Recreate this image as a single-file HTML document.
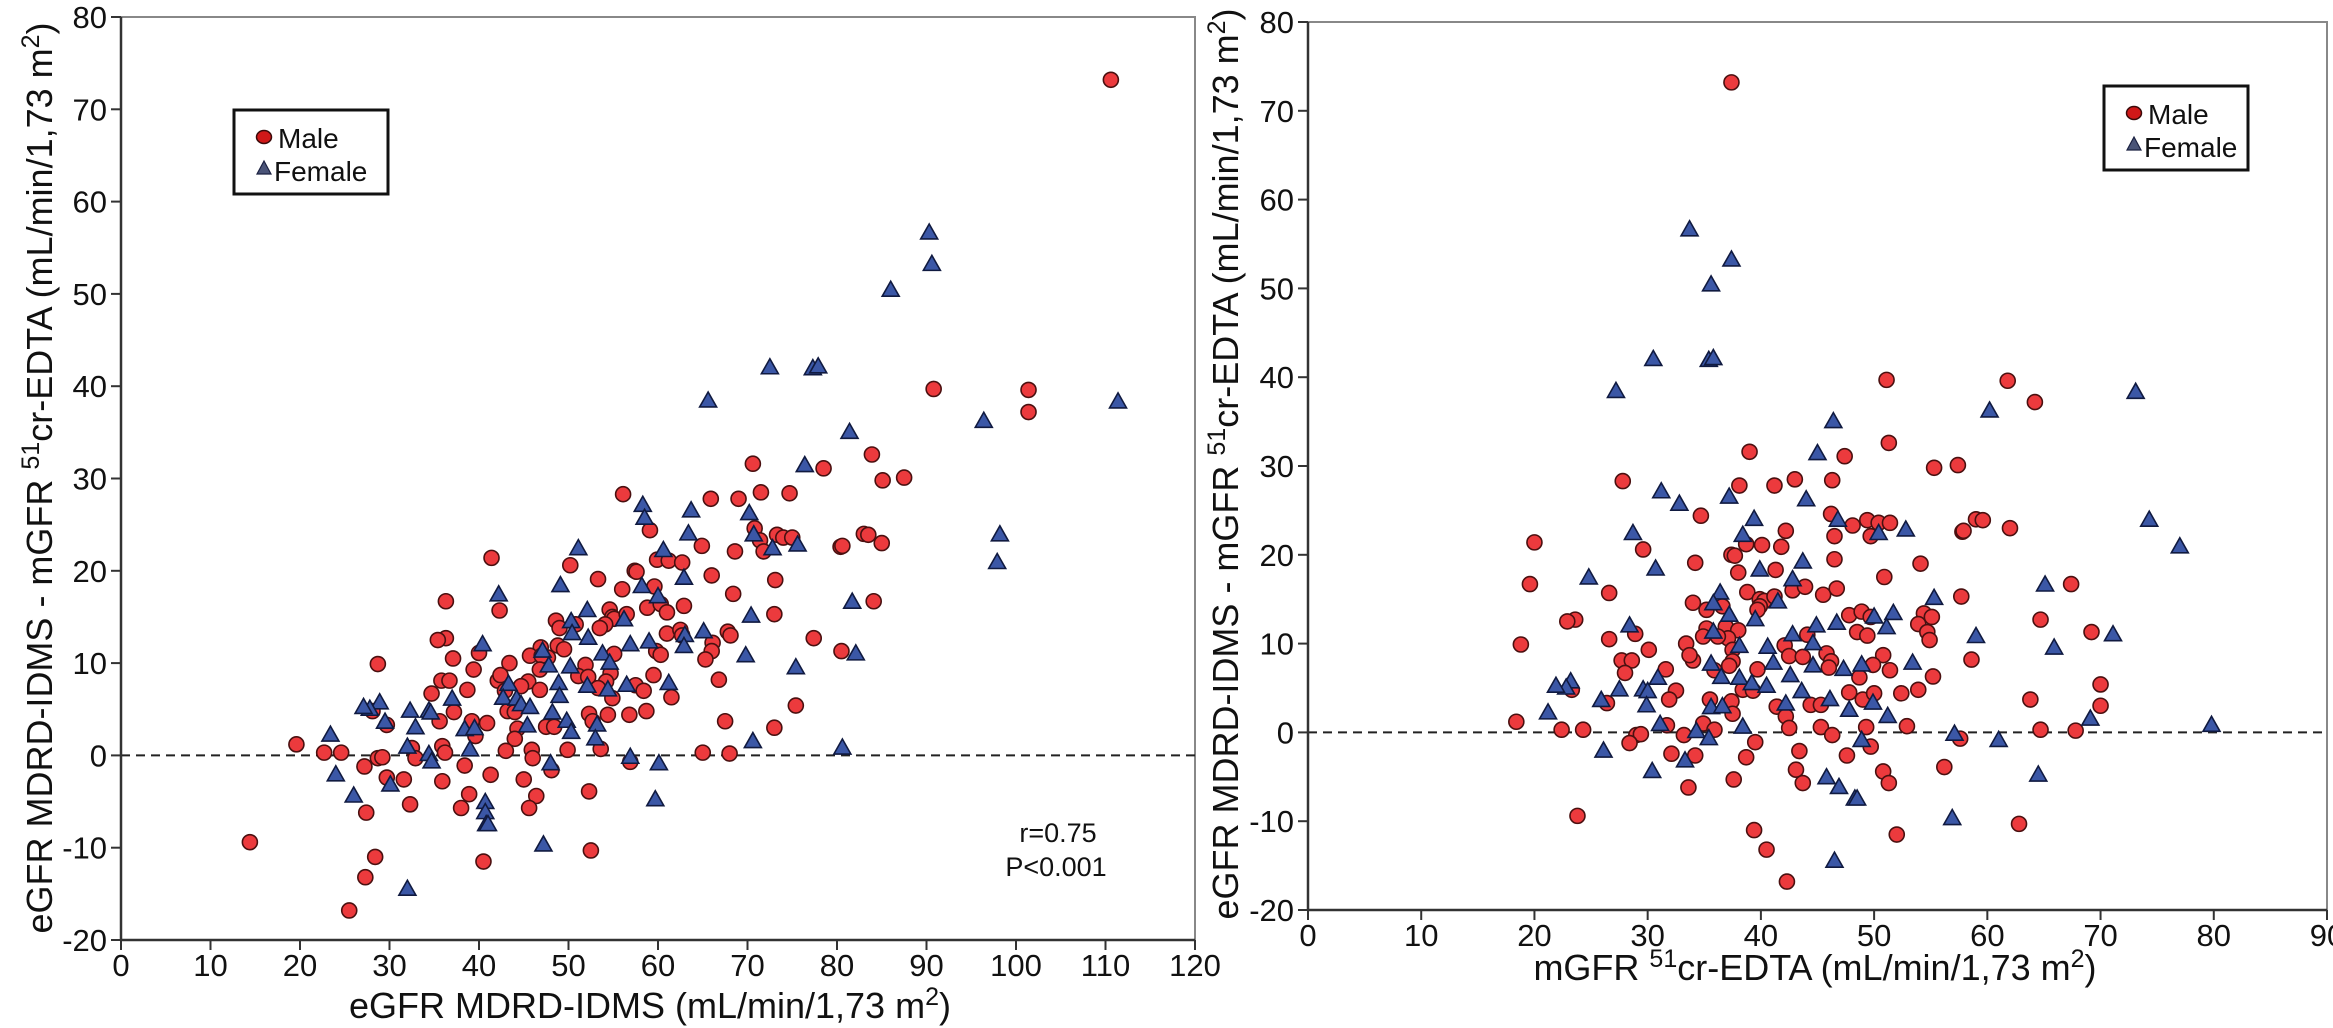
<!DOCTYPE html>
<html><head><meta charset="utf-8">
<style>
html,body{margin:0;padding:0;background:#fff;}
svg{display:block;font-family:"Liberation Sans",Arial,sans-serif;}
</style></head>
<body>
<svg id="fig" width="2333" height="1028" viewBox="0 0 2333 1028" xmlns="http://www.w3.org/2000/svg"></svg>
<script>
// Data: measured GFR (mGFR) and difference eGFR - mGFR, per sex
const maleMgfr = [27.8,38.1,41.2,43.0,46.3,34.7,46.2,48.1,49.4,50.4,51.4,49.7,57.8,59.0,42.2,38.7,40.1,41.8,46.5,29.6,37.4,37.7,34.2,46.5,54.1,38.0,41.3,50.9,42.8,43.9,45.5,46.7,26.6,34.0,35.2,36.6,38.8,39.9,40.3,41.2,39.9,39.7,57.7,23.6,47.8,48.9,49.7,54.4,55.1,53.9,28.9,26.6,35.2,34.9,36.9,38.0,37.1,36.2,44.1,48.5,49.4,54.7,54.9,33.4,37.5,42.1,42.5,43.7,30.1,34.0,33.7,27.7,28.6,28.0,45.8,46.2,46.0,50.8,58.6,37.5,35.9,37.2,31.6,39.7,49.9,51.4,48.7,55.2,23.3,38.4,39.3,32.5,31.9,26.4,35.5,37.4,37.5,47.8,49.0,50.0,52.4,53.9,41.4,42.2,44.4,45.3,22.4,31.7,29.0,29.4,28.4,33.2,34.9,35.9,39.5,42.5,45.3,46.3,49.3,49.7,52.9,57.6,32.1,34.2,38.7,43.4,47.6,37.6,33.6,43.1,43.7,50.8,51.3,56.2,51.1,61.8,39.0,47.4,51.3,55.3,57.4,37.4,18.8,18.4,20.0,19.6,22.9,24.3,23.8,39.4,40.5,42.3,52.0,62.8,64.2,69.2,57.9,59.6,63.8,64.7,64.7,67.4,67.8,70.0,70.0,62.0];
const maleDiff = [28.3,27.8,27.8,28.5,28.4,24.4,24.6,23.3,23.9,23.6,23.6,22.1,22.6,24.0,22.7,21.2,21.1,20.9,22.1,20.6,20.0,19.9,19.1,19.5,19.0,18.0,18.3,17.5,16.0,16.4,15.5,16.2,15.7,14.6,13.8,14.2,15.8,15.0,14.8,15.3,14.2,13.8,15.3,12.7,13.2,13.6,13.0,13.4,13.0,12.2,11.1,10.5,11.7,10.8,11.9,11.5,10.6,10.8,11.0,11.3,10.9,11.3,10.4,10.0,9.3,9.8,8.6,8.5,9.3,8.1,8.7,8.1,8.1,6.7,8.9,8.0,7.3,8.7,8.2,8.0,7.0,7.5,7.1,7.1,7.6,7.0,6.2,6.3,4.8,4.8,4.7,4.7,3.7,3.3,3.7,3.5,2.1,4.5,3.7,4.4,4.4,4.8,2.9,1.8,3.1,3.1,0.3,0.8,-0.3,-0.2,-1.2,-0.3,1.0,0.3,-1.1,0.5,0.6,-0.3,0.6,-1.6,0.7,-0.7,-2.4,-2.6,-2.8,-2.1,-2.6,-5.3,-6.2,-4.2,-5.7,-4.4,-5.7,-3.9,39.7,39.6,31.6,31.1,32.6,29.8,30.1,73.2,9.9,1.2,21.4,16.7,12.5,0.3,-9.4,-11.0,-13.2,-16.8,-11.5,-10.3,37.2,11.3,22.7,23.9,3.7,12.7,0.3,16.7,0.2,3.0,5.4,23.0];
const femaleMgfr = [31.2,32.8,37.2,44.0,39.4,46.8,50.4,52.8,28.7,38.4,43.7,30.7,24.8,39.9,42.8,36.4,35.8,41.5,55.3,37.2,39.5,50.0,51.7,46.7,28.4,35.8,42.8,44.9,51.1,59.0,38.1,40.6,44.6,35.6,41.1,44.6,47.3,48.9,53.4,23.2,30.9,36.5,38.1,39.2,40.5,42.6,27.5,29.6,30.0,25.9,29.9,35.6,36.6,43.6,49.9,46.1,42.2,47.8,51.2,31.1,34.3,35.4,38.4,48.9,57.1,61.0,26.1,33.3,30.4,45.8,46.9,48.3,33.7,37.4,35.6,30.5,35.4,35.8,27.2,60.2,46.4,45.0,22.8,21.9,21.2,46.5,56.9,73.1,74.3,77.0,65.1,65.9,64.5,69.1,71.1,79.8,48.5];
const femaleDiff = [27.1,25.7,26.5,26.2,24.0,23.9,22.4,22.8,22.4,22.2,19.2,18.4,17.4,18.3,17.2,15.7,14.5,14.7,15.1,13.2,12.7,13.0,13.4,12.3,12.0,11.3,11.0,12.0,11.8,10.8,9.7,9.6,10.0,7.7,7.8,7.5,7.1,7.6,7.8,5.7,6.1,6.2,6.1,5.5,5.2,6.4,4.8,4.8,4.6,3.6,3.0,2.8,2.9,4.6,3.3,3.7,3.2,2.5,1.8,0.9,0.1,-0.7,0.6,-0.9,-0.2,-0.9,-2.1,-3.2,-4.4,-5.1,-6.2,-7.5,56.6,53.2,50.4,42.0,41.9,42.1,38.4,36.2,35.0,31.4,5.0,5.2,2.2,-14.5,-9.7,38.3,23.9,20.9,16.6,9.5,-4.8,1.5,11.0,0.8,-7.5];
const leftXTicks = [0,10,20,30,40,50,60,70,80,90,100,110,120];
const rightXTicks = [0,10,20,30,40,50,60,70,80,90];
const yTicks = [-20,-10,0,10,20,30,40,50,60,70,80];

const NS = "http://www.w3.org/2000/svg";
const svg = document.getElementById('fig');
function mk(tag, attrs, parent){
  const e = document.createElementNS(NS, tag);
  for (const k in attrs) e.setAttribute(k, attrs[k]);
  (parent||svg).appendChild(e);
  return e;
}
function txt(s, x, y, size, anchor, parent){
  const t = mk('text', {x:x, y:y, 'font-size':size, 'text-anchor':anchor||'middle', fill:'#111'}, parent);
  t.textContent = s;
  return t;
}

const panels = [
  {name:'left', x0:121, x1:1195, xmax:120, y0:940, y1:17, xt:leftXTicks, useE:true},
  {name:'right', x0:1308, x1:2327, xmax:90, y0:910, y1:22, xt:rightXTicks, useE:false}
];

panels.forEach(p => {
  const g = mk('g', {});
  
  
  const sx = v => p.x0 + (v/p.xmax)*(p.x1-p.x0);
  const sy = v => p.y0 - ((v+20)/100)*(p.y0-p.y1);
  const fr = mk('path', {d:`M${p.x0},${p.y1} H${p.x1} V${p.y0}`, stroke:'#888', 'stroke-width':2, fill:'none'}, g);
  
  
  const z = mk('line', {x1:p.x0, x2:p.x1, y1:sy(0), y2:sy(0), stroke:'#222', 'stroke-width':2, 'stroke-dasharray':'9,6'}, g);
  
  
  const ya = mk('line', {x1:p.x0, x2:p.x0, y1:p.y1, y2:p.y0, stroke:'#333', 'stroke-width':2.5}, g);
  
  
  const xa = mk('line', {x1:p.x0, x2:p.x1, y1:p.y0, y2:p.y0, stroke:'#333', 'stroke-width':2.5}, g);
  
  
  yTicks.forEach(v => {
    mk('line', {x1:p.x0-10, x2:p.x0, y1:sy(v), y2:sy(v), stroke:'#333', 'stroke-width':2}, g);
    const t = txt(String(v), p.x0-14, sy(v)+11, 31, 'end', g);
    
    
  });
  p.xt.forEach(v => {
    mk('line', {x1:sx(v), x2:sx(v), y1:p.y0, y2:p.y0+10, stroke:'#333', 'stroke-width':2}, g);
    const t = txt(String(v), sx(v), p.y0+36, 31, 'middle', g);
    
    
  });
  const drawM = (mg, d) => {
    const xv = p.useE ? mg + d : mg;
    const c = mk('circle', {cx:sx(xv), cy:sy(d), r:7.5, fill:'#ec3a3d', stroke:'#4a1010', 'stroke-width':1.6}, g);
    
    
  };
  const drawF = (mg, d) => {
    const xv = p.useE ? mg + d : mg;
    const cx = sx(xv), cy = sy(d);
    const t = mk('polygon', {points:`${cx},${cy-9} ${cx-8.5},${cy+6} ${cx+8.5},${cy+6}`, fill:'#3b57a6', stroke:'#101a40', 'stroke-width':1.6}, g);
    
    
  };
  maleMgfr.forEach((m,i) => drawM(m, maleDiff[i]));
  femaleMgfr.forEach((m,i) => drawF(m, femaleDiff[i]));
});

function yTitle(cx, cy, name){
  const t = mk('text', {x:0, y:0, 'font-size':36, 'text-anchor':'middle', fill:'#111', transform:`translate(${cx},${cy}) rotate(-90)`});
  t.innerHTML = 'eGFR MDRD-IDMS - mGFR <tspan dy="-13" font-size="25">51</tspan><tspan dy="13">cr-EDTA (mL/min/1,73 m</tspan><tspan dy="-13" font-size="25">2</tspan><tspan dy="13">)</tspan>';
  
  
}
yTitle(52, 478, 'left-y-axis-title');
yTitle(1238, 464, 'right-y-axis-title');

const xl = mk('text', {x:650, y:1018, 'font-size':36, 'text-anchor':'middle', fill:'#111'});
xl.innerHTML = 'eGFR MDRD-IDMS (mL/min/1,73 m<tspan dy="-13" font-size="25">2</tspan><tspan dy="13">)</tspan>';



const xr = mk('text', {x:1815, y:980, 'font-size':36, 'text-anchor':'middle', fill:'#111'});
xr.innerHTML = 'mGFR <tspan dy="-13" font-size="25">51</tspan><tspan dy="13">cr-EDTA (mL/min/1,73 m</tspan><tspan dy="-13" font-size="25">2</tspan><tspan dy="13">)</tspan>';



const r1 = txt('r=0.75', 1058, 842, 27, 'middle');


const r2 = txt('P<0.001', 1056, 876, 27, 'middle');



function legend(x, y, w, h, name){
  const g = mk('g', {});
  
  
  mk('rect', {x:x, y:y, width:w, height:h, fill:'#fff', stroke:'#111', 'stroke-width':3}, g);
  mk('ellipse', {cx:x+30, cy:y+27, rx:7.5, ry:6.5, fill:'#d01818', stroke:'#3a0a0a', 'stroke-width':1.5}, g);
  const t1 = txt('Male', x+44, y+38, 28, 'start', g);
  
  
  const cx = x+30, cy = y+59;
  mk('polygon', {points:`${cx},${cy-8} ${cx-7},${cy+5} ${cx+7},${cy+5}`, fill:'#4a5478', stroke:'#1a2040', 'stroke-width':1.2}, g);
  const t2 = txt('Female', x+40, y+71, 28, 'start', g);
  
  
}
legend(234, 110, 154, 84, 'left-legend');
legend(2104, 86, 144, 84, 'right-legend');
</script>
</body></html>
